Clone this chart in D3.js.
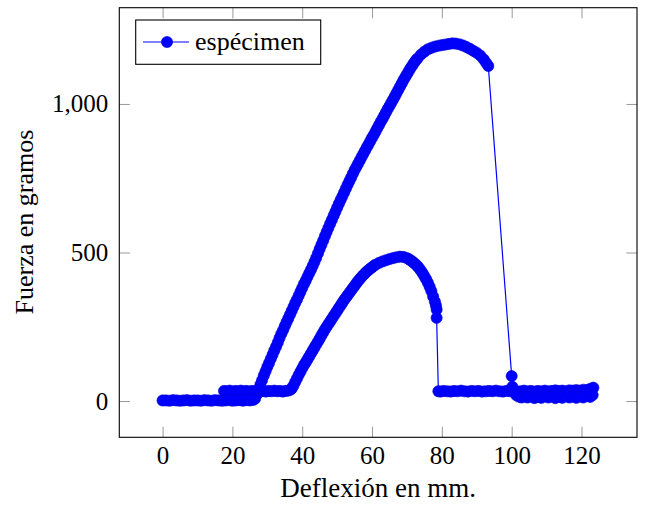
<!DOCTYPE html>
<html>
<head>
<meta charset="utf-8">
<script src="https://cdn.jsdelivr.net/npm/d3@7"></script>
<style>
  body { margin: 0; background: #fff; }
  text { font-family: "Liberation Serif", "DejaVu Serif", serif; }
</style>
</head>
<body>
<script>
// ---- Data ----
const xTickValues = [0, 20, 40, 60, 80, 100, 120];
const yTickValues = [0, 500, 1000];
const seriesName = "espécimen";
const xLabel = "Deflexión en mm.";
const yLabel = "Fuerza en gramos";

// first loading run (big curve), in acquisition order
const run1X = [0,1,2,3,4,5,6,7,8,9,10,11,12,13,14,15,16,17,18,19,20,21,22,23,24,25,26,
  26.5,27,27.5,28,28.5,29,29.5,30,30.5,31,31.5,32,32.5,33,33.5,34,34.5,35,35.5,36,36.5,37,37.5,38,38.5,39,39.5,40,
  40.5,41,41.5,42,42.5,43,43.5,44,44.5,45,45.5,46,46.5,47,47.5,48,48.5,49,49.5,50,50.5,51,51.5,52,52.5,53,53.5,54,
  54.5,55,55.5,56,56.5,57,57.5,58,58.5,59,59.5,60,60.5,61,61.5,62,62.5,63,63.5,64,64.5,65,65.5,66,66.5,67,67.5,68,
  68.5,69,69.5,70,70.5,71,71.5,72,72.5,73,74,75,76,77,78,79,80,81,82,83,84,85,86,87,88,89,90,91,92,92.7,93.3,
  100,100.2,100.7,101.3,102,102.8,103.5,104.5,105.5,106.5,107.5,108.5,109.5,110.5,111.5,112.5,113.5,114.5,115.5,
  116.5,117.5,118.5,119.5,120.5,121.5,122.5,123.2];
const run1Y = [2,2,1,3,2,1,2,3,1,2,2,1,3,2,1,3,2,1,2,3,1,2,3,1,3,2,4,
  8,22,38,55,70,86,100,115,128,142,156,170,183,197,212,226,238,252,265,278,291,304,317,330,342,355,368,381,
  394,405,418,430,442,455,468,482,497,512,526,540,555,569,583,597,610,624,637,651,664,677,689,702,715,728,740,752,
  765,777,788,799,810,821,832,843,854,864,875,886,896,907,918,929,940,950,961,972,983,993,1004,1014,1025,1036,1047,1058,
  1069,1080,1090,1100,1110,1120,1129,1138,1146,1153,1166,1176,1184,1189,1193,1196,1198,1200,1202,1204,1203,1201,1197,1192,1186,1179,1172,1163,1150,1138,1128,
  84,48,30,20,15,12,16,12,15,10,14,11,16,12,15,10,14,11,17,
  12,15,11,16,12,18,14,20];

// second loading run (small curve), in acquisition order
const run2X = [17.6,18.4,19.2,20,20.8,21.6,22.4,23.2,24,24.8,25.6,26.4,27.2,28,28.8,29.6,30.4,31.2,32,32.8,33.6,34.4,35.2,36,36.6,
  37,37.5,38,38.5,39,39.5,40,40.5,41,41.5,42,42.5,43,43.5,44,44.5,45,45.5,46,46.5,47,47.5,48,48.5,49,49.5,50,50.5,
  51,51.5,52,52.5,53,53.5,54,54.5,55,55.5,56,56.5,57,57.5,58,58.5,59,59.5,60,60.5,61,62,63,64,65,66,67,68,69,70,
  70.5,71,71.5,72,72.5,73,73.5,74,74.5,75,75.5,76,76.5,77,77.5,78,78.3,78.5,78.5,
  79,79.6,80.5,81.5,82.5,83.5,84.5,85.5,86.5,87.5,88.5,89.5,90.5,91.5,92.5,93.5,94.5,95.5,96.5,97.5,98.5,99.5,100.5,
  101.5,102.5,103.5,104.5,105.5,106.5,107.5,108.5,109.5,110.5,111.5,112.5,113.5,114.5,115.5,116.5,117.5,118.5,119.5,
  120.5,121.5,122.3,123,123.4];
const run2Y = [34,33,35,32,34,33,35,33,34,32,34,33,35,33,34,32,34,33,35,33,34,32,34,35,38,
  42,52,64,76,88,99,110,121,130,140,150,160,170,180,190,200,210,221,231,241,250,259,268,277,286,295,304,313,
  322,331,340,348,356,364,372,380,388,396,404,411,418,424,430,436,441,446,450,455,459,465,470,474,478,481,484,486,485,481,
  478,474,470,465,460,454,447,439,430,420,410,398,385,370,352,335,322,308,280,
  33,32,34,33,32,34,33,35,33,32,34,33,34,32,33,34,33,35,33,32,34,33,34,
  32,33,35,33,34,32,34,33,35,33,34,36,34,35,33,36,35,37,35,
  38,37,40,42,45];

(function () {
// ---- Layout ----
const W = 649, H = 510;
const pL = 119.3, pR = 637, pT = 7.7, pB = 437.3;
const tickLen = 10.6;

const x = d3.scaleLinear().domain([-12.4, 135.9]).range([pL, pR]);
const y = d3.scaleLinear().domain([-122, 1324]).range([pB, pT]);

const svg = d3.select("body").append("svg").attr("width", W).attr("height", H);

// Series in drawing order: second run, then first run traced back
const pts = run2X.map((d, i) => [d, run2Y[i]])
  .concat(run1X.map((d, i) => [d, run1Y[i]]).reverse());

function styleAxis(g) {
  g.select(".domain").remove();
  g.selectAll(".tick line").attr("stroke", "#999").attr("stroke-width", 1);
  g.selectAll(".tick text").attr("fill", "#000").attr("font-size", 25)
    .attr("font-family", '"Liberation Serif", "DejaVu Serif", serif');
}
svg.append("g").attr("transform", `translate(0,${pB})`)
  .call(d3.axisBottom(x).tickValues(xTickValues).tickSize(-tickLen).tickPadding(9.3))
  .call(styleAxis);
svg.append("g").attr("transform", `translate(0,${pT})`)
  .call(d3.axisTop(x).tickValues(xTickValues).tickSize(-tickLen).tickFormat(""))
  .call(styleAxis);
svg.append("g").attr("transform", `translate(${pL},0)`)
  .call(d3.axisLeft(y).tickValues(yTickValues).tickSize(-tickLen).tickPadding(11).tickFormat(d3.format(",")))
  .call(styleAxis);
svg.append("g").attr("transform", `translate(${pR},0)`)
  .call(d3.axisRight(y).tickValues(yTickValues).tickSize(-tickLen).tickFormat(""))
  .call(styleAxis);

svg.append("rect").attr("x", pL).attr("y", pT)
  .attr("width", pR - pL).attr("height", pB - pT)
  .attr("fill", "none").attr("stroke", "#000").attr("stroke-width", 1.1);

const line = d3.line().x(d => x(d[0])).y(d => y(d[1]));
svg.append("path").datum(pts).attr("d", line)
  .attr("fill", "none").attr("stroke", "#0000ff").attr("stroke-width", 1.2);

svg.append("g").selectAll("circle").data(pts).join("circle")
  .attr("cx", d => x(d[0])).attr("cy", d => y(d[1])).attr("r", 5.6)
  .attr("fill", "#0000ff").attr("stroke", "#0000d8").attr("stroke-width", 0.6);

const lg = svg.append("g");
lg.append("rect").attr("x", 135.7).attr("y", 20).attr("width", 185).attr("height", 44.3)
  .attr("fill", "#fff").attr("stroke", "#000").attr("stroke-width", 1.1);
lg.append("line").attr("x1", 143).attr("x2", 189).attr("y1", 42).attr("y2", 42)
  .attr("stroke", "#0000ff").attr("stroke-width", 1.2);
lg.append("circle").attr("cx", 167).attr("cy", 42).attr("r", 5.6)
  .attr("fill", "#0000ff").attr("stroke", "#0000d8").attr("stroke-width", 0.6);
lg.append("text").attr("x", 195).attr("y", 50).attr("font-size", 26).text(seriesName);

svg.append("text").attr("x", (pL + pR) / 2).attr("y", 497)
  .attr("text-anchor", "middle").attr("font-size", 27).text(xLabel);
svg.append("text").attr("transform", `translate(33,222) rotate(-90)`)
  .attr("text-anchor", "middle").attr("font-size", 26).text(yLabel);
})();
</script>
</body>
</html>
